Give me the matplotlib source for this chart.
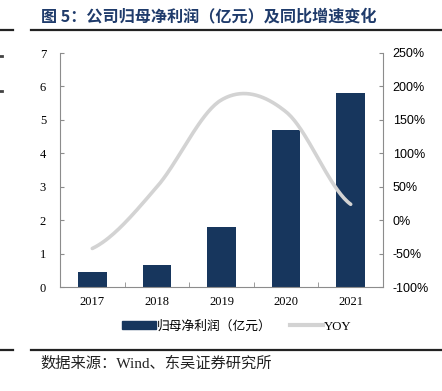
import numpy as np
import matplotlib
matplotlib.use("Agg")
import matplotlib.pyplot as plt
from matplotlib.patches import Patch
from matplotlib.lines import Line2D
from matplotlib.ticker import FuncFormatter, MultipleLocator

plt.rcParams['font.family'] = ['Noto Sans CJK SC', 'DejaVu Sans']

years = ["2017", "2018", "2019", "2020", "2021"]
profit = [0.45, 0.68, 1.81, 4.69, 5.81]          # 亿元
yoy = [-42, 50, 180, 162, 24]                      # %

title = "图 5：公司归母净利润（亿元）及同比增速变化"
source = "数据来源：Wind、东吴证券研究所"
bar_label = "归母净利润（亿元）"
line_label = "YOY"

navy = "#17365D"
grey_line = "#D3D3D3"
spine_c = "#8C8C8C"

W, H = 442, 391
fig = plt.figure(figsize=(W / 100, H / 100), dpi=100)

ax = fig.add_axes([60 / W, 1 - 287.3 / H, (383 - 60) / W, (287.3 - 53) / H])
x = np.arange(len(years))
ax.bar(x, profit, width=0.44, color=navy, zorder=2)
ax.set_xlim(-0.5, len(years) - 0.5)
ax.set_ylim(0, 7)
ax.yaxis.set_major_locator(MultipleLocator(1))
ax.set_xticks(x)
ax.set_xticklabels(years, family='Liberation Serif', fontsize=9)
ax.set_xticks(np.arange(0.5, len(years) - 1, 1), minor=True)
ax.tick_params(axis='x', which='major', length=0, pad=6)
ax.tick_params(axis='x', which='minor', direction='in', length=3.5, color=spine_c)
ax.tick_params(axis='y', direction='in', length=3, color=spine_c, pad=10)
for lab in ax.get_yticklabels():
    lab.set_family('Liberation Serif')
    lab.set_fontsize(9)
for s in ['top', 'right']:
    ax.spines[s].set_visible(False)
for s in ['left', 'bottom']:
    ax.spines[s].set_color(spine_c)
    ax.spines[s].set_linewidth(0.8)

ax2 = ax.twinx()
ax2.set_ylim(-100, 250)
ax2.yaxis.set_major_locator(MultipleLocator(50))
ax2.yaxis.set_major_formatter(FuncFormatter(lambda v, p: f"{int(round(v))}%"))
ax2.tick_params(axis='y', direction='in', length=3, color=spine_c, pad=7)
for lab in ax2.get_yticklabels():
    lab.set_family('Liberation Sans')
    lab.set_fontsize(9)
for s in ['top', 'left', 'bottom']:
    ax2.spines[s].set_visible(False)
ax2.spines['right'].set_color(spine_c)
ax2.spines['right'].set_linewidth(0.8)

# smoothed line (Catmull-Rom through the data points)
yv = np.array(yoy, dtype=float)
n = len(yv)
m = np.zeros(n)
for i in range(n):
    if i == 0:
        m[i] = (yv[1] - yv[0]) / 2
    elif i == n - 1:
        m[i] = (yv[-1] - yv[-2]) / 2
    else:
        m[i] = (yv[i + 1] - yv[i - 1]) / 2
xs, ys = [], []
t = np.linspace(0, 1, 40)
for i in range(n - 1):
    h00 = 2 * t**3 - 3 * t**2 + 1
    h10 = t**3 - 2 * t**2 + t
    h01 = -2 * t**3 + 3 * t**2
    h11 = t**3 - t**2
    xs.extend(i + t)
    ys.extend(h00 * yv[i] + h10 * m[i] + h01 * yv[i + 1] + h11 * m[i + 1])
ax2.plot(xs, ys, color=grey_line, lw=2.6, solid_capstyle='round', zorder=3)

# title and rules
fig.text(41 / W, 1 - 16 / H, title, fontsize=11.6, fontweight='bold', color="#1F3B6B",
         va='center', ha='left')
for yy in (29.5, 350):
    fig.add_artist(Line2D([31 / W, 1], [1 - yy / H] * 2, color='#222222', lw=1.6))
    fig.add_artist(Line2D([0, 13 / W], [1 - yy / H] * 2, color='#222222', lw=1.6))
for yy in (56, 91):
    fig.add_artist(Line2D([0, 2 / W], [1 - yy / H] * 2, color='#444444', lw=2))

fig.text(40 / W, 1 - 364 / H, source, fontsize=11, color='#222222', va='center', ha='left',
         family=['Liberation Serif', 'Noto Sans CJK SC'])

# legend
handles = [Patch(facecolor=navy, edgecolor=navy), Line2D([0], [0], color=grey_line, lw=3)]
leg = fig.legend(handles, [bar_label, line_label], loc='center', bbox_to_anchor=(237 / W, 1 - 326 / H),
                 ncol=2, frameon=False, fontsize=9.2, handlelength=2.6, handleheight=0.5,
                 handletextpad=0.1, columnspacing=1.4)
leg.get_texts()[1].set_family('Liberation Serif')

fig.savefig("out.png", dpi=100)
